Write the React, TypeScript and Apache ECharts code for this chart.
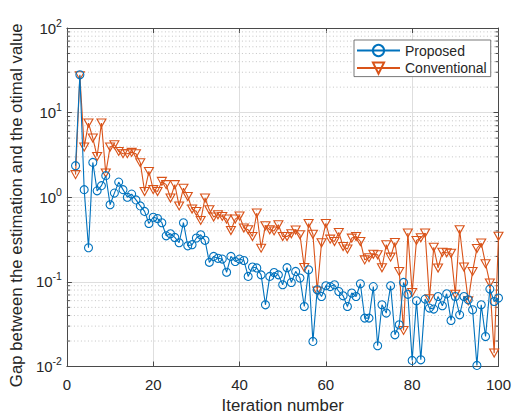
import { useEffect, useRef } from 'react';
import * as echarts from 'echarts';

const iterations: number[] = Array.from({ length: 99 }, (_, k) => k + 2);

const proposed: number[] = [
  2.36, 28, 1.23, 0.253, 2.58, 1.19, 1.37, 1.8, 0.815, 1.12,
  1.51, 1.23, 1.0, 1.09, 0.93, 0.79, 0.68, 0.49, 0.58, 0.56,
  0.5, 0.35, 0.37, 0.335, 0.29, 0.5, 0.267, 0.275, 0.33, 0.36,
  0.31, 0.17, 0.2, 0.19, 0.186, 0.13, 0.2, 0.174, 0.186, 0.179,
  0.116, 0.15, 0.146, 0.121, 0.0536, 0.116, 0.129, 0.121, 0.0925, 0.147,
  0.0984, 0.133, 0.111, 0.0512, 0.139, 0.0198, 0.0807, 0.0672, 0.09, 0.088,
  0.0925, 0.077, 0.0685, 0.0512, 0.0738, 0.0672, 0.095, 0.0373, 0.0373, 0.088,
  0.0176, 0.0536, 0.0428, 0.09, 0.0237, 0.0311, 0.0984, 0.0713, 0.0118, 0.0598,
  0.012, 0.0626, 0.049, 0.0477, 0.0672, 0.0522, 0.0723, 0.035, 0.0672, 0.0408,
  0.0672, 0.0614, 0.0468, 0.0103, 0.0536, 0.0226, 0.0822, 0.0586, 0.0644,
];

const conventional: number[] = [
  1.85, 27.3, 3.92, 7.53, 5.0, 3.03, 7.53, 1.93, 3.92, 4.18,
  3.48, 3.27, 3.27, 3.39, 3.27, 2.56, 1.17, 2.02, 1.23, 1.17,
  1.54, 1.41, 0.98, 1.41, 0.79, 1.28, 1.02, 0.725, 0.68, 0.532,
  0.98, 0.71, 0.583, 0.621, 0.593, 0.552, 0.405, 0.552, 0.6, 0.432,
  0.413, 0.344, 0.65, 0.25, 0.46, 0.413, 0.4, 0.473, 0.344, 0.344,
  0.37, 0.41, 0.36, 0.148, 0.49, 0.365, 0.078, 0.29, 0.49, 0.32,
  0.3, 0.384, 0.262, 0.244, 0.329, 0.344, 0.3, 0.182, 0.193, 0.212,
  0.209, 0.147, 0.275, 0.196, 0.292, 0.133, 0.0267, 0.377, 0.075, 0.309,
  0.332, 0.377, 0.063, 0.256, 0.146, 0.224, 0.221, 0.218, 0.0713, 0.413,
  0.15, 0.0598, 0.133, 0.248, 0.288, 0.164, 0.0968, 0.0144, 0.346,
];

const yMinorTicks: number[] = [
  0.02, 0.03, 0.04, 0.05, 0.06, 0.07, 0.08, 0.09,
  0.2, 0.3, 0.4, 0.5, 0.6, 0.7, 0.8, 0.9,
  2, 3, 4, 5, 6, 7, 8, 9,
  20, 30, 40, 50, 60, 70, 80, 90,
];

const FONT = 'Liberation Sans, Arial, Helvetica, sans-serif';
const AXIS = '#262626';
const AXIS_LINE = '#4a4a4a';
const BLUE = '#0072BD';
const RED = '#D95319';

export default function App() {
  const ref = useRef<HTMLDivElement>(null);

  useEffect(() => {
    document.body.style.margin = '0';
    const chart = echarts.init(ref.current!, null, { renderer: 'svg' });

    const option: any = {
      animation: false,
      backgroundColor: '#ffffff',
      grid: { left: 66, top: 28, width: 435, height: 338.5, containLabel: false },
      legend: {
        data: ['Proposed', 'Conventional'],
        orient: 'vertical',
        left: 354,
        top: 40,
        padding: [3.5, 4, 1.5, 2],
        itemGap: 3.6,
        itemWidth: 43,
        itemHeight: 14,
        itemTextGap: 2,
        backgroundColor: '#ffffff',
        borderColor: '#555555',
        borderWidth: 0.8,
        borderRadius: 0,
        textStyle: { fontSize: 14, fontFamily: FONT, color: AXIS },
      },
      xAxis: [
        {
          type: 'value',
          min: 0,
          max: 100,
          interval: 20,
          position: 'bottom',
          name: 'Iteration number',
          nameLocation: 'middle',
          nameGap: 30,
          nameTextStyle: { fontSize: 16.8, fontFamily: FONT, color: AXIS },
          axisLine: { show: true, onZero: false, lineStyle: { color: AXIS_LINE, width: 1 } },
          axisTick: { show: true, inside: true, length: 5, lineStyle: { color: AXIS_LINE } },
          axisLabel: { fontSize: 15, fontFamily: FONT, color: AXIS, margin: 10 },
          splitLine: { show: true, lineStyle: { color: '#dedede', width: 1 } },
        },
        {
          type: 'value',
          min: 0,
          max: 100,
          interval: 20,
          position: 'top',
          axisLine: { show: true, onZero: false, lineStyle: { color: AXIS_LINE, width: 1 } },
          axisTick: { show: true, inside: true, length: 5, lineStyle: { color: AXIS_LINE } },
          axisLabel: { show: false },
          splitLine: { show: false },
        },
      ],
      yAxis: [
        {
          type: 'log',
          logBase: 10,
          min: 0.01,
          max: 100,
          position: 'left',
          name: 'Gap between the estimation and the otimal value',
          nameLocation: 'middle',
          nameGap: 30,
          nameTextStyle: { fontSize: 16.8, fontFamily: FONT, color: AXIS, padding: [0, 16, 0, 0] },
          axisLine: { show: true, onZero: false, lineStyle: { color: AXIS_LINE, width: 1 } },
          axisTick: { show: true, inside: true, length: 5, lineStyle: { color: AXIS_LINE } },
          axisLabel: {
            margin: 5,
            formatter: (v: number) => `{a|10}{b|${Math.round(Math.log10(v))}}`,
            rich: {
              a: { fontSize: 15, fontFamily: FONT, color: AXIS, lineHeight: 22 },
              b: { fontSize: 10.5, fontFamily: FONT, color: AXIS, verticalAlign: 'top', lineHeight: 22 },
            },
          },
          splitLine: { show: true, lineStyle: { color: '#dedede', width: 1 } },
        },
        {
          type: 'log',
          logBase: 10,
          min: 0.01,
          max: 100,
          position: 'right',
          axisLine: { show: true, onZero: false, lineStyle: { color: AXIS_LINE, width: 1 } },
          axisTick: { show: true, inside: true, length: 5, lineStyle: { color: AXIS_LINE } },
          axisLabel: { show: false },
          splitLine: { show: false },
        },
      ],
      series: [
        {
          type: 'custom',
          name: 'minor',
          silent: true,
          z: 1,
          xAxisIndex: 0,
          yAxisIndex: 0,
          data: yMinorTicks.map((v) => [0, v]),
          renderItem: (params: any, api: any) => {
            const cs = params.coordSys;
            const y = api.coord([0, api.value(1)])[1];
            return {
              type: 'group',
              children: [
                {
                  type: 'line',
                  shape: { x1: cs.x, y1: y, x2: cs.x + cs.width, y2: y },
                  style: { stroke: '#c4c4c4', lineWidth: 1, lineDash: [1, 2.5] },
                },
                {
                  type: 'line',
                  shape: { x1: cs.x, y1: y, x2: cs.x + 3, y2: y },
                  style: { stroke: AXIS_LINE, lineWidth: 1 },
                },
                {
                  type: 'line',
                  shape: { x1: cs.x + cs.width - 3, y1: y, x2: cs.x + cs.width, y2: y },
                  style: { stroke: AXIS_LINE, lineWidth: 1 },
                },
              ],
            };
          },
        },
        {
          type: 'line',
          name: 'Proposed',
          z: 3,
          data: iterations.map((it, k) => [it, proposed[k]]),
          symbol: 'circle',
          symbolSize: 8,
          showAllSymbol: true,
          lineStyle: { color: BLUE, width: 1.1 },
          itemStyle: { color: 'rgba(255,255,255,0)', borderColor: BLUE, borderWidth: 1.1 },
        },
        {
          type: 'line',
          name: 'Conventional',
          z: 2,
          data: iterations.map((it, k) => [it, conventional[k]]),
          symbol: 'path://M0,0L10,0L5,8.66Z',
          symbolSize: [9, 8],
          showAllSymbol: true,
          lineStyle: { color: RED, width: 1.1 },
          itemStyle: { color: 'rgba(255,255,255,0)', borderColor: RED, borderWidth: 1.1 },
        },
      ],
    };

    chart.setOption(option);
    return () => chart.dispose();
  }, []);

  return <div ref={ref} style={{ width: 514, height: 419 }} />;
}
